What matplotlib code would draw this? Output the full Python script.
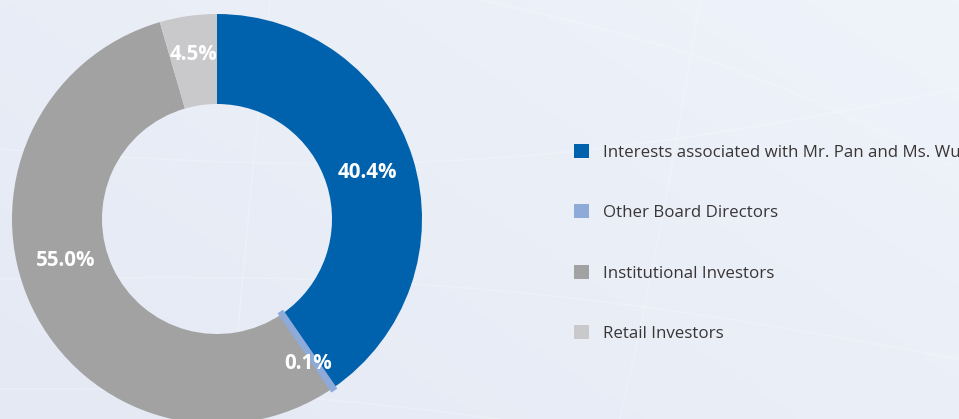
import numpy as np
import matplotlib
matplotlib.use("Agg")
import matplotlib.pyplot as plt
from matplotlib.colors import LinearSegmentedColormap

categories = ["Interests associated with Mr. Pan and Ms. Wu",
              "Other Board Directors",
              "Institutional Investors",
              "Retail Investors"]
values = [40.4, 0.1, 55.0, 4.5]
labels = ["40.4%", "0.1%", "55.0%", "4.5%"]

colors = ["#0061ad", "#8eaad9", "#a2a2a2", "#c9c9cb"]
label_angle_shift = [0, -2, -10, 0]      # degrees, visual nudges of the value labels
label_radius = [158, 171, 157, 166]

W, H = 959, 419
fig = plt.figure(figsize=(W / 100, H / 100), dpi=100)

# background gradient
bg = fig.add_axes([0, 0, 1, 1], zorder=0)
bg.set_axis_off()
gx, gy = np.meshgrid(np.linspace(0, 1, 200), np.linspace(0, 1, 100))
grad = 0.6 * gx + 0.4 * (1 - gy)
cmap = LinearSegmentedColormap.from_list("bg", ["#e4e9f4", "#eff3fa"])
bg.imshow(grad, cmap=cmap, extent=[0, W, 0, H], origin="upper", aspect="auto")
# faint decorative lines
t = np.linspace(0, 1, 200)
for (x0, y0, x1, y1, b) in [(0, 140, 959, 60, 30), (0, 270, 959, 330, -40),
                            (230, 0, 270, 419, 10), (620, 0, 700, 419, -20),
                            (0, 30, 500, 0, 10), (480, 419, 959, 250, 20)]:
    xs = x0 + (x1 - x0) * t
    ys = y0 + (y1 - y0) * t + b * np.sin(np.pi * t)
    bg.plot(xs, ys, color="white", alpha=0.22, lw=1.2)
bg.set_xlim(0, W)
bg.set_ylim(0, H)

ax = fig.add_axes([0, 0, 1, 1], zorder=1)
ax.patch.set_alpha(0)
cx, cy, R, r_in = 217, H - 219, 205, 115
wedges, _ = ax.pie(values, colors=colors, startangle=90, counterclock=False,
                   center=(cx, cy), radius=R,
                   wedgeprops=dict(width=R - r_in, linewidth=0),
                   frame=False)
# make the tiny slice visible as a thin strip
wedges[1].set_edgecolor(colors[1])
wedges[1].set_linewidth(4.2)
wedges[1].set_zorder(3)

for w, lab, da, rr in zip(wedges, labels, label_angle_shift, label_radius):
    mid = np.deg2rad((w.theta1 + w.theta2) / 2 + da)
    ax.text(cx + rr * np.cos(mid), cy + rr * np.sin(mid), lab,
            ha="center", va="center", color="white", fontsize=14.8,
            fontweight="bold", family=["Open Sans", "DejaVu Sans"], zorder=5)

ax.set_xlim(0, W)
ax.set_ylim(0, H)
ax.set_aspect("equal")
ax.set_axis_off()

leg = ax.legend(wedges, categories, loc="upper left",
                bbox_to_anchor=(574 / W, (H - 144) / H), frameon=False,
                handlelength=0.88, handleheight=0.88, handletextpad=0.85,
                labelspacing=2.58, borderpad=0, borderaxespad=0,
                prop=dict(family=["Open Sans", "DejaVu Sans"], size=12.2))
for txt in leg.get_texts():
    txt.set_color("#3a3636")
for h in leg.legend_handles:
    h.set_linewidth(0)

fig.savefig("out.png", dpi=100)
